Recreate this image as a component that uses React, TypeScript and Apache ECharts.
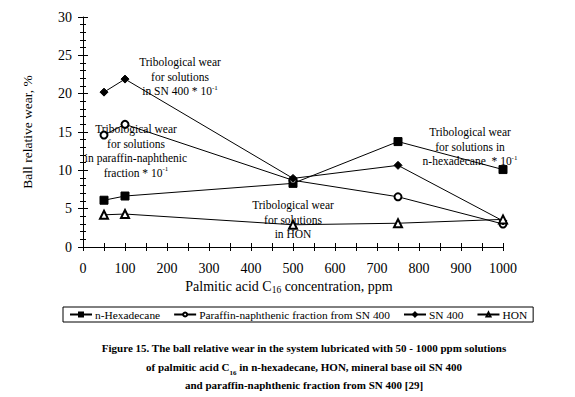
import React, { useEffect, useRef } from "react";
import * as echarts from "echarts";

const concentrations = [50, 100, 500, 750, 1000];
const hexadecane = [6.1, 6.65, 8.3, 13.75, 10.1];
const paraffin = [14.6, 16.0, 8.7, 6.55, 3.0];
const sn400 = [20.2, 21.9, 8.95, 10.65, 3.4];
const hon = [4.2, 4.3, 2.9, 3.1, 3.6];
const seriesNames = ["n-Hexadecane", "Paraffin-naphthenic fraction from SN 400", "SN 400", "HON"];

const FONT = "Liberation Serif";

export default function App() {
  const ref = useRef<HTMLDivElement>(null);
  useEffect(() => {
    const chart = echarts.init(ref.current!, null, { renderer: "svg" });
    const pair = (xs: number[], ys: number[]) => xs.map((x, i) => [x, ys[i]]);
    const lineStyle = { color: "#000", width: 1 };
    const mk = (name: string, data: number[], symbol: string, size: number) => ({
      type: "line",
      name,
      data: pair(concentrations, data),
      symbol,
      symbolSize: size,
      lineStyle,
      itemStyle: { color: "#000", borderColor: "#000", borderWidth: 1 },
      xAxisIndex: 0,
      yAxisIndex: 0,
    });
    const annText = (text: string) => ({
      fontFamily: FONT,
      fontSize: 11.5,
      fill: "#000",
      align: "center",
      lineHeight: 14.5,
      text,
      rich: {
        n: { fontFamily: FONT, fontSize: 11.5, lineHeight: 14.5 },
        s: { fontFamily: FONT, fontSize: 7, verticalAlign: "top", lineHeight: 14.5, padding: [0, 0, 6, 0] },
      },
    });
    const sharedX = { type: "value", min: 0, max: 1000, interval: 50 };
    const sharedY = { type: "value", min: 0, max: 30, interval: 5 };
    chart.setOption({
      animation: false,
      backgroundColor: "#fff",
      textStyle: { fontFamily: FONT },
      grid: { left: 83, right: 72, top: 17, bottom: 150 },
      xAxis: [
        {
          ...sharedX,
          position: "bottom",
          axisLine: { show: true, lineStyle: { color: "#000", width: 1 } },
          axisTick: { show: true, inside: false, length: 4, lineStyle: { color: "#000" } },
          splitLine: { show: false },
          axisLabel: {
            color: "#000",
            fontFamily: FONT,
            fontSize: 14,
            margin: 14,
            formatter: (v: number) => (v % 100 === 0 ? String(v) : ""),
          },
          name: "Palmitic acid C{sub|16} concentration, ppm",
          nameLocation: "middle",
          nameGap: 31,
          nameTextStyle: {
            color: "#000",
            fontFamily: FONT,
            fontSize: 14,
            padding: [0, 8, 0, 0],
            rich: { sub: { fontFamily: FONT, fontSize: 9.5, verticalAlign: "bottom", padding: [6, 0, 0, 0] } },
          },
        },
        {
          ...sharedX,
          position: "bottom",
          axisLine: { show: false },
          axisTick: { show: true, inside: true, length: 4, lineStyle: { color: "#000" } },
          splitLine: { show: false },
          axisLabel: { show: false },
        },
      ],
      yAxis: [
        {
          ...sharedY,
          position: "left",
          axisLine: { show: true, lineStyle: { color: "#000", width: 1 } },
          axisTick: { show: true, inside: false, length: 5, lineStyle: { color: "#000" } },
          minorTick: { show: true, splitNumber: 5, length: 3, lineStyle: { color: "#000" } },
          splitLine: { show: false },
          axisLabel: { color: "#000", fontFamily: FONT, fontSize: 14, margin: 11 },
          name: "Ball relative wear, %",
          nameLocation: "middle",
          nameGap: 49,
          nameTextStyle: { color: "#000", fontFamily: FONT, fontSize: 13.5 },
        },
        {
          ...sharedY,
          position: "left",
          axisLine: { show: false },
          axisTick: { show: true, inside: true, length: 5, lineStyle: { color: "#000" } },
          minorTick: { show: true, splitNumber: 5, length: 3, lineStyle: { color: "#000" } },
          splitLine: { show: false },
          axisLabel: { show: false },
        },
      ],
      legend: {
        data: seriesNames,
        left: 63,
        top: 307,
        orient: "horizontal",
        borderColor: "#000",
        borderWidth: 1,
        borderRadius: 0,
        padding: [1, 6, 1, 6],
        itemWidth: 22,
        itemHeight: 5,
        itemGap: 13,
        textStyle: { color: "#000", fontFamily: FONT, fontSize: 11.4, lineHeight: 13, padding: [0, 0, 0, -2] },
      },
      series: [
        mk(seriesNames[0], hexadecane, "rect", 8),
        mk(seriesNames[1], paraffin, "emptyCircle", 7),
        mk(seriesNames[2], sn400, "diamond", 8),
        mk(seriesNames[3], hon, "emptyTriangle", 8),
      ],
      graphic: [
        { type: "text", x: 180, y: 55, style: annText("Tribological wear\nfor solutions\nin SN 400 * 10{s|-1}") },
        { type: "text", x: 136, y: 122, style: annText("Tribological wear\nfor solutions\nin paraffin-naphthenic\nfraction * 10{s|-1}") },
        { type: "text", x: 293, y: 198, style: annText("Tribological wear\nfor solutions\nin HON") },
        { type: "text", x: 470, y: 125, style: annText("Tribological wear\nfor solutions in\nn-hexadecane  * 10{s|-1}") },
        {
          type: "text",
          x: 304,
          y: 339,
          style: {
            text:
              "Figure 15. The ball relative wear in the system lubricated with 50 - 1000 ppm solutions\nof palmitic acid C{sub|16} in n-hexadecane, HON, mineral base oil SN 400\nand paraffin-naphthenic fraction from SN 400 [29]",
            fontFamily: FONT,
            fontSize: 11,
            fontWeight: "bold",
            fill: "#000",
            align: "center",
            lineHeight: 18.5,
            rich: {
              sub: { fontFamily: FONT, fontSize: 7, fontWeight: "bold", verticalAlign: "bottom", lineHeight: 18.5, padding: [5, 0, 0, 0] },
            },
          },
        },
      ],
    });
    return () => chart.dispose();
  }, []);
  return <div ref={ref} style={{ width: 575, height: 397, position: "absolute", left: 0, top: 0 }} />;
}
